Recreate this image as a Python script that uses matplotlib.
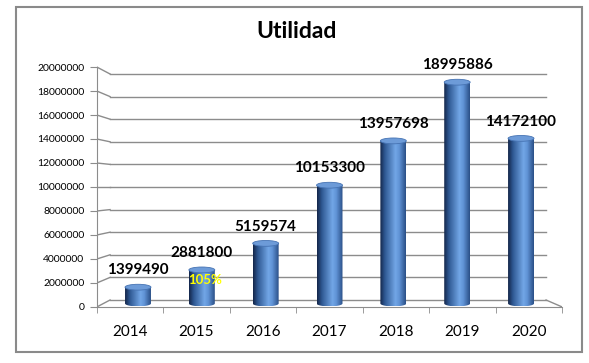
import numpy as np
import matplotlib.pyplot as plt
from matplotlib.patches import Ellipse, PathPatch, Rectangle
from matplotlib.path import Path
from matplotlib.colors import LinearSegmentedColormap

# datos del grafico
anios = ['2014', '2015', '2016', '2017', '2018', '2019', '2020']
utilidad = [1399490, 2881800, 5159574, 10153300, 13957698, 18995886, 14172100]
ticks_y = [0, 2000000, 4000000, 6000000, 8000000, 10000000,
           12000000, 14000000, 16000000, 18000000, 20000000]
nota_2015 = '105%'
nota_valor = 2000000

plt.rcParams['font.family'] = ['Lato', 'DejaVu Sans']

# perspectiva falsa: pared frontal, pared del fondo (en unidades de la columna)
def frente(v):
    return (12 * v - 3.5e6) / 11.65

def fondo(v):
    return (3.5e6 + 11.3 * v) / 11.65

fig = plt.figure(figsize=(5.89, 3.63), dpi=100)
ax = fig.add_axes([0.1643, 0.1405, 0.7903, 0.6942])

gris = '#8c8c8c'
x_fondo0, x_fondo1 = -0.30, 6.256

# lineas de division del fondo + diagonales
for t in ticks_y:
    ax.plot([-0.5, x_fondo0], [frente(t), fondo(t)], color=gris, lw=1, zorder=1)
    ax.plot([x_fondo0, x_fondo1], [fondo(t), fondo(t)], color=gris, lw=1, zorder=1)
ax.plot([x_fondo1, 6.5], [fondo(0), frente(0)], color=gris, lw=1, zorder=1)

# cilindros
cmap = LinearSegmentedColormap.from_list(
    'cil', [(0, '#14264a'), (0.18, '#2e5892'), (0.6, '#72a6e6'),
            (0.75, '#6093d6'), (1, '#2b5088')])
grad = np.linspace(0, 1, 64).reshape(1, -1)
ancho = 0.39
eh = 0.5e6

for i, v in enumerate(utilidad):
    xc = i + 0.04 * (3 - i)
    x0, x1 = xc - ancho / 2, xc + ancho / 2
    th = np.linspace(np.pi, 2 * np.pi, 40)
    verts = list(zip(xc + ancho / 2 * np.cos(th), eh / 2 * np.sin(th)))
    verts += [(x1, v), (x0, v), verts[0]]
    forma = PathPatch(Path(verts), transform=ax.transData, facecolor='none', edgecolor='none')
    ax.add_patch(forma)
    im = ax.imshow(grad, extent=[x0, x1, -eh / 2, v], aspect='auto', cmap=cmap,
                   origin='lower', zorder=3)
    im.set_clip_path(forma)
    ax.add_patch(Ellipse((xc, v), ancho, eh, facecolor='#6d9bd8', edgecolor='#4673b3',
                         lw=0.6, zorder=4))
    ax.annotate(str(v), (xc, v + eh / 2), xytext=(0, 5), textcoords='offset points',
                ha='center', va='bottom', fontsize=11, fontweight='bold', zorder=5)

ax.text(1 + 0.04 * 2 + 0.05, nota_valor, nota_2015, color='#ffff00', fontsize=9.5,
        fontweight='bold', ha='center', va='center', zorder=6)

ax.set_xlim(-0.5, 6.5)
ax.set_ylim(-0.7296e6, 20.901e6)

# ejes
for s in ['top', 'right']:
    ax.spines[s].set_visible(False)
ax.spines['left'].set_bounds(frente(0), frente(20000000))
ax.spines['left'].set_color(gris)
ax.spines['bottom'].set_position(('data', frente(0)))
ax.spines['bottom'].set_color(gris)
ax.set_yticks([frente(t) for t in ticks_y])
ax.set_yticklabels([str(t) for t in ticks_y], fontsize=7.5)
ax.tick_params(axis='y', length=5, color=gris, pad=4)
ax.set_xticks(range(len(anios)))
ax.set_xticklabels(anios, fontsize=11)
ax.set_xticks(np.arange(-0.5, 7, 1), minor=True)
ax.tick_params(axis='x', which='major', length=0, pad=13)
ax.tick_params(axis='x', which='minor', length=4, color=gris)
ax.patch.set_visible(False)

fig.text(0.504, 0.912, 'Utilidad', fontsize=16.5, fontweight='bold', ha='center', va='center')
fig.add_artist(Rectangle((0.0272, 0.0303), 0.961, 0.950, transform=fig.transFigure,
                         fill=False, edgecolor='#8a8a8a', lw=1.5))

fig.savefig('out.png', dpi=100)
